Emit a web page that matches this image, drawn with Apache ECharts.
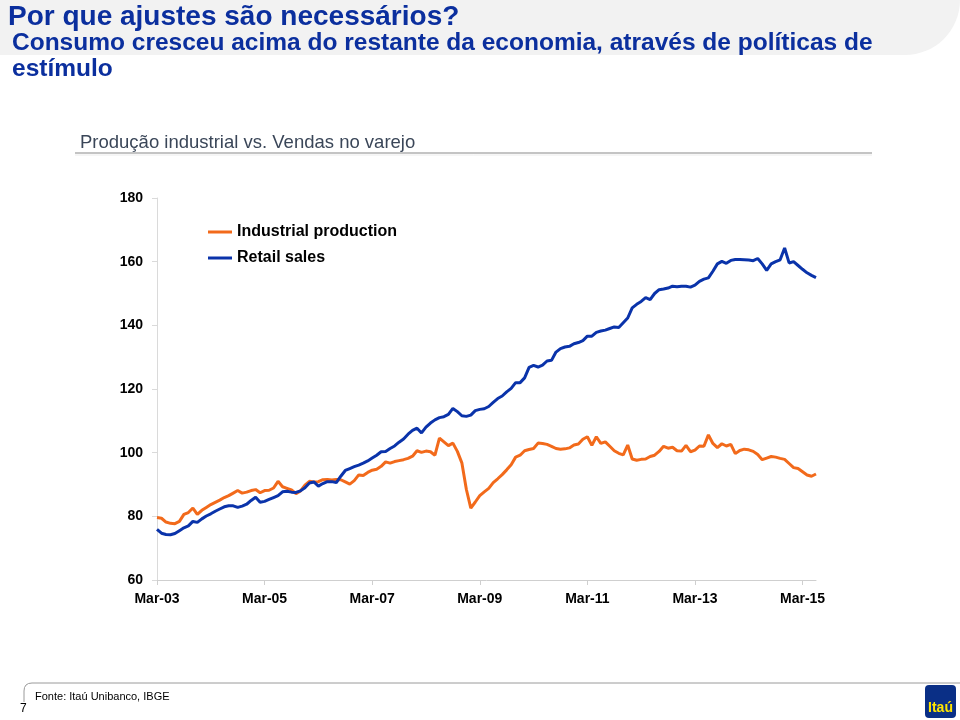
<!DOCTYPE html>
<html><head><meta charset="utf-8">
<script src="https://cdn.jsdelivr.net/npm/echarts/dist/echarts.min.js"></script>
<style>html,body{margin:0;padding:0;background:#fff}#c{width:960px;height:720px}</style>
</head><body><div id="c"></div>
<script>
const categories = [
 'Mar-03','Apr-03','May-03','Jun-03','Jul-03','Aug-03','Sep-03','Oct-03','Nov-03','Dec-03',
 'Jan-04','Feb-04','Mar-04','Apr-04','May-04','Jun-04','Jul-04','Aug-04','Sep-04','Oct-04','Nov-04','Dec-04',
 'Jan-05','Feb-05','Mar-05','Apr-05','May-05','Jun-05','Jul-05','Aug-05','Sep-05','Oct-05','Nov-05','Dec-05',
 'Jan-06','Feb-06','Mar-06','Apr-06','May-06','Jun-06','Jul-06','Aug-06','Sep-06','Oct-06','Nov-06','Dec-06',
 'Jan-07','Feb-07','Mar-07','Apr-07','May-07','Jun-07','Jul-07','Aug-07','Sep-07','Oct-07','Nov-07','Dec-07',
 'Jan-08','Feb-08','Mar-08','Apr-08','May-08','Jun-08','Jul-08','Aug-08','Sep-08','Oct-08','Nov-08','Dec-08',
 'Jan-09','Feb-09','Mar-09','Apr-09','May-09','Jun-09','Jul-09','Aug-09','Sep-09','Oct-09','Nov-09','Dec-09',
 'Jan-10','Feb-10','Mar-10','Apr-10','May-10','Jun-10','Jul-10','Aug-10','Sep-10','Oct-10','Nov-10','Dec-10',
 'Jan-11','Feb-11','Mar-11','Apr-11','May-11','Jun-11','Jul-11','Aug-11','Sep-11','Oct-11','Nov-11','Dec-11',
 'Jan-12','Feb-12','Mar-12','Apr-12','May-12','Jun-12','Jul-12','Aug-12','Sep-12','Oct-12','Nov-12','Dec-12',
 'Jan-13','Feb-13','Mar-13','Apr-13','May-13','Jun-13','Jul-13','Aug-13','Sep-13','Oct-13','Nov-13','Dec-13',
 'Jan-14','Feb-14','Mar-14','Apr-14','May-14','Jun-14','Jul-14','Aug-14','Sep-14','Oct-14','Nov-14','Dec-14',
 'Jan-15','Feb-15','Mar-15','Apr-15','May-15','Jun-15'
];
const industrialProduction = [
 79.6,79.4,78.2,77.8,77.7,78.4,80.6,81.2,82.6,80.6,
 81.9,82.8,83.7,84.4,85.1,85.9,86.5,87.3,88.1,87.3,87.6,88.1,
 88.4,87.4,88.1,88.2,88.9,91.0,89.3,88.8,88.3,87.1,88.0,89.8,
 91.0,90.8,90.9,91.5,91.6,91.4,91.6,91.5,90.8,90.1,91.2,93.0,
 92.8,93.8,94.5,94.8,95.7,97.1,96.7,97.2,97.5,97.8,98.2,98.9,
 100.6,100.1,100.5,100.3,99.2,104.6,103.4,102.2,103.0,100.4,96.8,88.5,
 82.6,84.5,86.5,87.7,88.8,90.6,91.8,93.1,94.6,96.2,98.6,99.2,
 100.6,101.0,101.3,103.0,102.9,102.6,102.0,101.3,101.1,101.2,101.5,102.4,
 102.7,104.2,105.0,102.3,105.0,102.9,103.4,102.0,100.6,99.8,99.3,102.4,
 98.0,97.6,97.9,98.0,98.8,99.2,100.4,102.0,101.4,101.7,100.6,100.5,
 102.3,100.3,100.8,102.1,102.0,105.6,102.9,101.6,102.8,102.1,102.6,99.7,
 100.7,101.1,100.9,100.4,99.4,97.8,98.3,98.8,98.6,98.2,97.9,96.6,
 95.3,95.0,94.0,93.0,92.6,93.3
];
const retailSales = [
 75.9,74.7,74.3,74.2,74.6,75.5,76.4,77.0,78.4,78.1,
 79.2,80.1,80.8,81.6,82.3,83.0,83.3,83.3,82.8,83.2,83.8,85.0,
 86.0,84.4,84.7,85.3,85.9,86.5,87.7,87.9,87.6,87.5,88.0,89.0,
 90.5,90.8,89.5,90.3,90.9,90.9,90.6,92.6,94.4,95.0,95.6,96.1,
 96.7,97.4,98.3,99.2,100.3,100.4,101.3,102.1,103.3,104.3,105.8,107.0,
 107.7,106.2,108.0,109.3,110.3,111.0,111.3,112.0,113.9,112.9,111.6,111.4,
 111.8,113.2,113.6,113.8,114.5,115.8,117.0,117.8,119.1,120.2,122.0,122.0,
 123.5,126.8,127.4,126.9,127.5,128.8,129.0,131.6,132.7,133.2,133.4,134.2,
 134.6,135.2,136.6,136.6,137.8,138.2,138.5,139.0,139.5,139.3,140.8,142.3,
 145.5,146.6,147.5,148.7,148.1,150.0,151.2,151.4,151.7,152.3,152.1,152.3,
 152.3,152.0,152.6,153.8,154.5,154.9,157.0,159.3,160.1,159.5,160.4,160.7,
 160.7,160.6,160.5,160.3,161.0,159.3,157.3,159.3,160.0,160.6,164.3,159.6,
 160.0,158.8,157.6,156.5,155.7,155.0
];
const seriesNames = ['Industrial production','Retail sales'];
const yMin = 60, yMax = 180, yStep = 20;
const tickEvery = 24; // Mar-03, Mar-05, ... Mar-15

const FONT = "'Liberation Sans', Arial, sans-serif";
const chart = echarts.init(document.getElementById('c'));
chart.setOption({
  animation: false,
  backgroundColor: '#ffffff',
  textStyle: { fontFamily: FONT },
  grid: { left: 157, right: 144, top: 198, bottom: 140, containLabel: false },
  legend: {
    data: seriesNames, orient: 'vertical', left: 203, top: 219,
    icon: 'rect', itemWidth: 24, itemHeight: 3, itemGap: 10,
    selectedMode: false,
    textStyle: { fontSize: 16, fontWeight: 'bold', color: '#000', fontFamily: FONT }
  },
  xAxis: {
    type: 'category', data: categories, boundaryGap: false,
    axisLine: { lineStyle: { color: '#cfcfcf', width: 1 } },
    axisTick: { show: true, interval: tickEvery - 1, length: 5, lineStyle: { color: '#cfcfcf' } },
    axisLabel: { interval: tickEvery - 1, margin: 12, fontSize: 14, color: '#000', fontFamily: FONT, fontWeight: 'bold' },
    splitLine: { show: false }
  },
  yAxis: {
    type: 'value', min: yMin, max: yMax, interval: yStep,
    axisLine: { show: true, lineStyle: { color: '#dadada', width: 1 } },
    axisTick: { show: true, length: 5, lineStyle: { color: '#dadada' } },
    axisLabel: { margin: 14, fontSize: 14, color: '#000', fontFamily: FONT, fontWeight: 'bold' },
    splitLine: { show: false }
  },
  series: [
    { name: seriesNames[0], type: 'line', data: industrialProduction, showSymbol: false,
      lineStyle: { color: '#f26a1b', width: 3 }, itemStyle: { color: '#f26a1b' }, z: 2 },
    { name: seriesNames[1], type: 'line', data: retailSales, showSymbol: false,
      lineStyle: { color: '#0a33aa', width: 3 }, itemStyle: { color: '#0a33aa' }, z: 3 }
  ],
  graphic: [
    { type: 'rect', z: -10, shape: { x: 0, y: 0, width: 960, height: 55, r: [0, 0, 55, 0] }, style: { fill: '#f2f2f2' } },
    { type: 'text', x: 8, y: 17, style: { text: 'Por que ajustes são necessários?', font: 'bold 28px ' + FONT, fill: '#0b2f9e', verticalAlign: 'middle', textVerticalAlign: 'middle' } },
    { type: 'text', x: 12, y: 43, style: { text: 'Consumo cresceu acima do restante da economia, através de políticas de', font: 'bold 24.5px ' + FONT, fill: '#0b2f9e', verticalAlign: 'middle', textVerticalAlign: 'middle' } },
    { type: 'text', x: 12, y: 69, style: { text: 'estímulo', font: 'bold 24.5px ' + FONT, fill: '#0b2f9e', verticalAlign: 'middle', textVerticalAlign: 'middle' } },
    { type: 'text', x: 80, y: 143, style: { text: 'Produção industrial vs. Vendas no varejo', font: '18.5px ' + FONT, fill: '#3a4658', verticalAlign: 'middle', textVerticalAlign: 'middle' } },
    { type: 'line', shape: { x1: 75, y1: 153, x2: 872, y2: 153 }, style: { stroke: '#c4c4c4', lineWidth: 2 } },
    { type: 'line', shape: { x1: 75, y1: 155, x2: 872, y2: 155 }, style: { stroke: '#ececec', lineWidth: 1 } },
    { type: 'line', shape: { x1: 32, y1: 683, x2: 960, y2: 683 }, style: { stroke: '#9a9a9a', lineWidth: 1 } },
    { type: 'bezierCurve', shape: { x1: 24, y1: 691, cpx1: 24, cpy1: 683, x2: 32, y2: 683 }, style: { stroke: '#9a9a9a', lineWidth: 1, fill: null } },
    { type: 'line', shape: { x1: 24, y1: 691, x2: 24, y2: 702 }, style: { stroke: '#9a9a9a', lineWidth: 1 } },
    { type: 'text', x: 35, y: 697, style: { text: 'Fonte: Itaú Unibanco, IBGE', font: '11px ' + FONT, fill: '#000', verticalAlign: 'middle', textVerticalAlign: 'middle' } },
    { type: 'text', x: 20, y: 709, style: { text: '7', font: '12px ' + FONT, fill: '#000', verticalAlign: 'middle', textVerticalAlign: 'middle' } },
    { type: 'rect', shape: { x: 925, y: 685, width: 31, height: 33, r: 4 }, style: { fill: '#0a2f86' } },
    { type: 'text', x: 940.5, y: 708, style: { text: 'Itaú', font: 'bold 14px ' + FONT, fill: '#ffe500', align: 'center', textAlign: 'center', verticalAlign: 'middle', textVerticalAlign: 'middle' } }
  ]
});
</script>
</body></html>
